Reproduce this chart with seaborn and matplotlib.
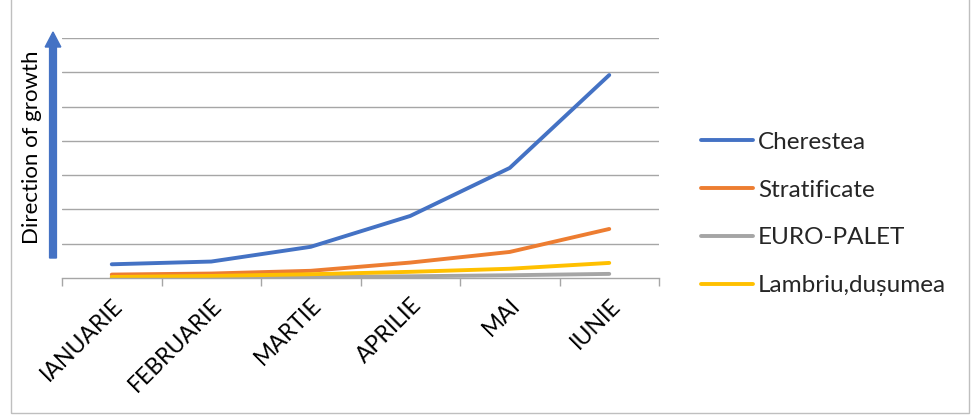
import pandas as pd
import matplotlib.pyplot as plt
import seaborn as sns
from matplotlib.patches import Rectangle, FancyArrow

# Data (units = gridline steps)
months = ["IANUARIE", "FEBRUARIE", "MARTIE", "APRILIE", "MAI", "IUNIE"]
cherestea = [0.40, 0.48, 0.91, 1.81, 3.21, 5.92]
stratificate = [0.10, 0.13, 0.21, 0.45, 0.76, 1.43]
euro_palet = [0.01, 0.02, 0.03, 0.05, 0.08, 0.12]
lambriu = [0.03, 0.06, 0.11, 0.18, 0.27, 0.44]

series_names = ["Cherestea", "Stratificate", "EURO-PALET", "Lambriu,dușumea"]
series_vals = [cherestea, stratificate, euro_palet, lambriu]
colors = ["#4472C4", "#ED7D31", "#A5A5A5", "#FFC000"]

rows = []
for name, vals in zip(series_names, series_vals):
    for m, v in zip(months, vals):
        rows.append({"luna": m, "valoare": v, "produs": name})
df = pd.DataFrame(rows)

sns.set_theme(style="white")
plt.rcParams["font.family"] = ["Lato", "DejaVu Sans"]

fig = plt.figure(figsize=(9.77, 4.16), dpi=100)
ax = fig.add_axes([62 / 977, 1 - 278 / 416, (659 - 62) / 977, (278 - 38) / 416])

sns.lineplot(data=df, x="luna", y="valoare", hue="produs", palette=colors,
             linewidth=2.8, sort=False, ax=ax, legend=False)

ax.set_xlim(-0.5, 5.5)
ax.set_ylim(0, 7)
ax.set_yticks(range(1, 8))
ax.set_yticklabels([])
ax.tick_params(axis="y", length=0)
ax.grid(axis="y", color="#A6A6A6", linewidth=1)
ax.grid(axis="x", visible=False)
for s in ["top", "right", "left"]:
    ax.spines[s].set_visible(False)
ax.spines["bottom"].set_color("#A6A6A6")
ax.spines["bottom"].set_linewidth(1)

ax.set_xticks(range(len(months)))
ax.set_xticklabels(months, rotation=45, ha="right", rotation_mode="anchor",
                   fontsize=16.5, color="#000000")
ax.set_xticks([i - 0.5 for i in range(len(months) + 1)], minor=True)
ax.tick_params(axis="x", which="major", length=0, pad=12)
ax.tick_params(axis="x", which="minor", length=6, color="#A6A6A6", width=1, bottom=True)
ax.set_xlabel("")
ax.set_ylabel("")

# Growth arrow and its label
fig.patches.append(FancyArrow(
    53 / 977, 1 - 258 / 416, 0, (258 - 32) / 416, width=0.007, head_width=0.016,
    head_length=15 / 416, length_includes_head=True, color="#4472C4",
    transform=fig.transFigure))
fig.text(32 / 977, 1 - 147 / 416, "Direction of growth", rotation=90,
         ha="center", va="center", fontsize=16, color="#000000")

# Legend
handles = [plt.Line2D([], [], color=c, linewidth=2.8) for c in colors]
fig.legend(handles, series_names, loc="upper left",
           bbox_to_anchor=(679 / 977, 1 - 110 / 416), frameon=False,
           fontsize=17.5, handlelength=2.15, handletextpad=0.2, labelspacing=1.1)

# Outer chart border
fig.patches.append(Rectangle((11 / 977, 3 / 416), (969 - 11) / 977, 420 / 416,
                             fill=False, edgecolor="#BFBFBF", linewidth=1,
                             transform=fig.transFigure))

fig.savefig("out.png", dpi=100)
